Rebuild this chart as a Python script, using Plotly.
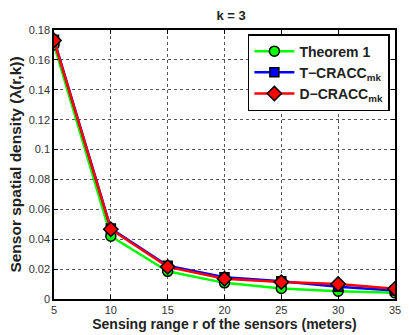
import plotly.graph_objects as go

r = [5, 10, 15, 20, 25, 30, 35]
theorem1 = [0.170, 0.042, 0.0185, 0.0108, 0.0070, 0.0052, 0.0041]
t_cracc = [0.1735, 0.0472, 0.0222, 0.0145, 0.0118, 0.0082, 0.0057]
d_cracc = [0.173, 0.0467, 0.0215, 0.0135, 0.0113, 0.0100, 0.0068]

xticks = [5, 10, 15, 20, 25, 30, 35]
yticks = [0, 0.02, 0.04, 0.06, 0.08, 0.1, 0.12, 0.14, 0.16, 0.18]
ylabels = ["0", "0.02", "0.04", "0.06", "0.08", "0.1", "0.12", "0.14", "0.16", "0.18"]

fig = go.Figure()
fig.add_trace(go.Scatter(x=r, y=theorem1, mode="lines+markers", name="<b>Theorem 1</b>",
                         line=dict(color="#00ff00", width=2.5),
                         marker=dict(symbol="circle", size=10, color="#00ff00",
                                     line=dict(color="black", width=1.5))))
fig.add_trace(go.Scatter(x=r, y=t_cracc, mode="lines+markers", name="<b>T\u2212CRACC<sub>mk</sub></b>",
                         line=dict(color="#0000ff", width=2.5),
                         marker=dict(symbol="square", size=9, color="#0000ff",
                                     line=dict(color="black", width=1.5))))
fig.add_trace(go.Scatter(x=r, y=d_cracc, mode="lines+markers", name="<b>D\u2212CRACC<sub>mk</sub></b>",
                         line=dict(color="#ff0000", width=2.5),
                         marker=dict(symbol="diamond", size=11, color="#ff0000",
                                     line=dict(color="black", width=1.5))))

axis_common = dict(showline=True, linecolor="black", linewidth=1.5, mirror="ticks",
                   ticks="inside", ticklen=4, tickcolor="black",
                   showgrid=True, gridcolor="#555555", griddash="dot", gridwidth=1,
                   zeroline=False, tickfont=dict(family="Liberation Sans, Arial", size=11, color="#333333"))

fig.update_layout(
    width=409, height=335,
    margin=dict(l=54, r=8, t=30, b=31),
    paper_bgcolor="white", plot_bgcolor="white",
    title=dict(text="<b>k = 3</b>", x=0.565, xanchor="center", y=0.955, yanchor="middle",
               font=dict(family="Liberation Sans, Arial", size=13, color="#222222")),
    xaxis=dict(range=[5, 35], tickvals=xticks,
               title=dict(text="<b>Sensing range r of the sensors (meters)</b>", standoff=1,
                          font=dict(family="Liberation Sans, Arial", size=14, color="#222222")),
               **axis_common),
    yaxis=dict(range=[0, 0.18], tickvals=yticks, ticktext=ylabels,
               title=dict(text="<b>Sensor spatial density (\u03bb(r,k))</b>", standoff=3,
                          font=dict(family="Liberation Sans, Arial", size=15.5, color="#222222")),
               **axis_common),
    legend=dict(x=0.985, y=0.985, xanchor="right", yanchor="top",
                bgcolor="white", bordercolor="black", borderwidth=1.5,
                font=dict(family="Liberation Sans, Arial", size=14, color="#222222"),
                tracegroupgap=2, itemwidth=40),
    showlegend=True,
)

fig.write_html("out.html")
